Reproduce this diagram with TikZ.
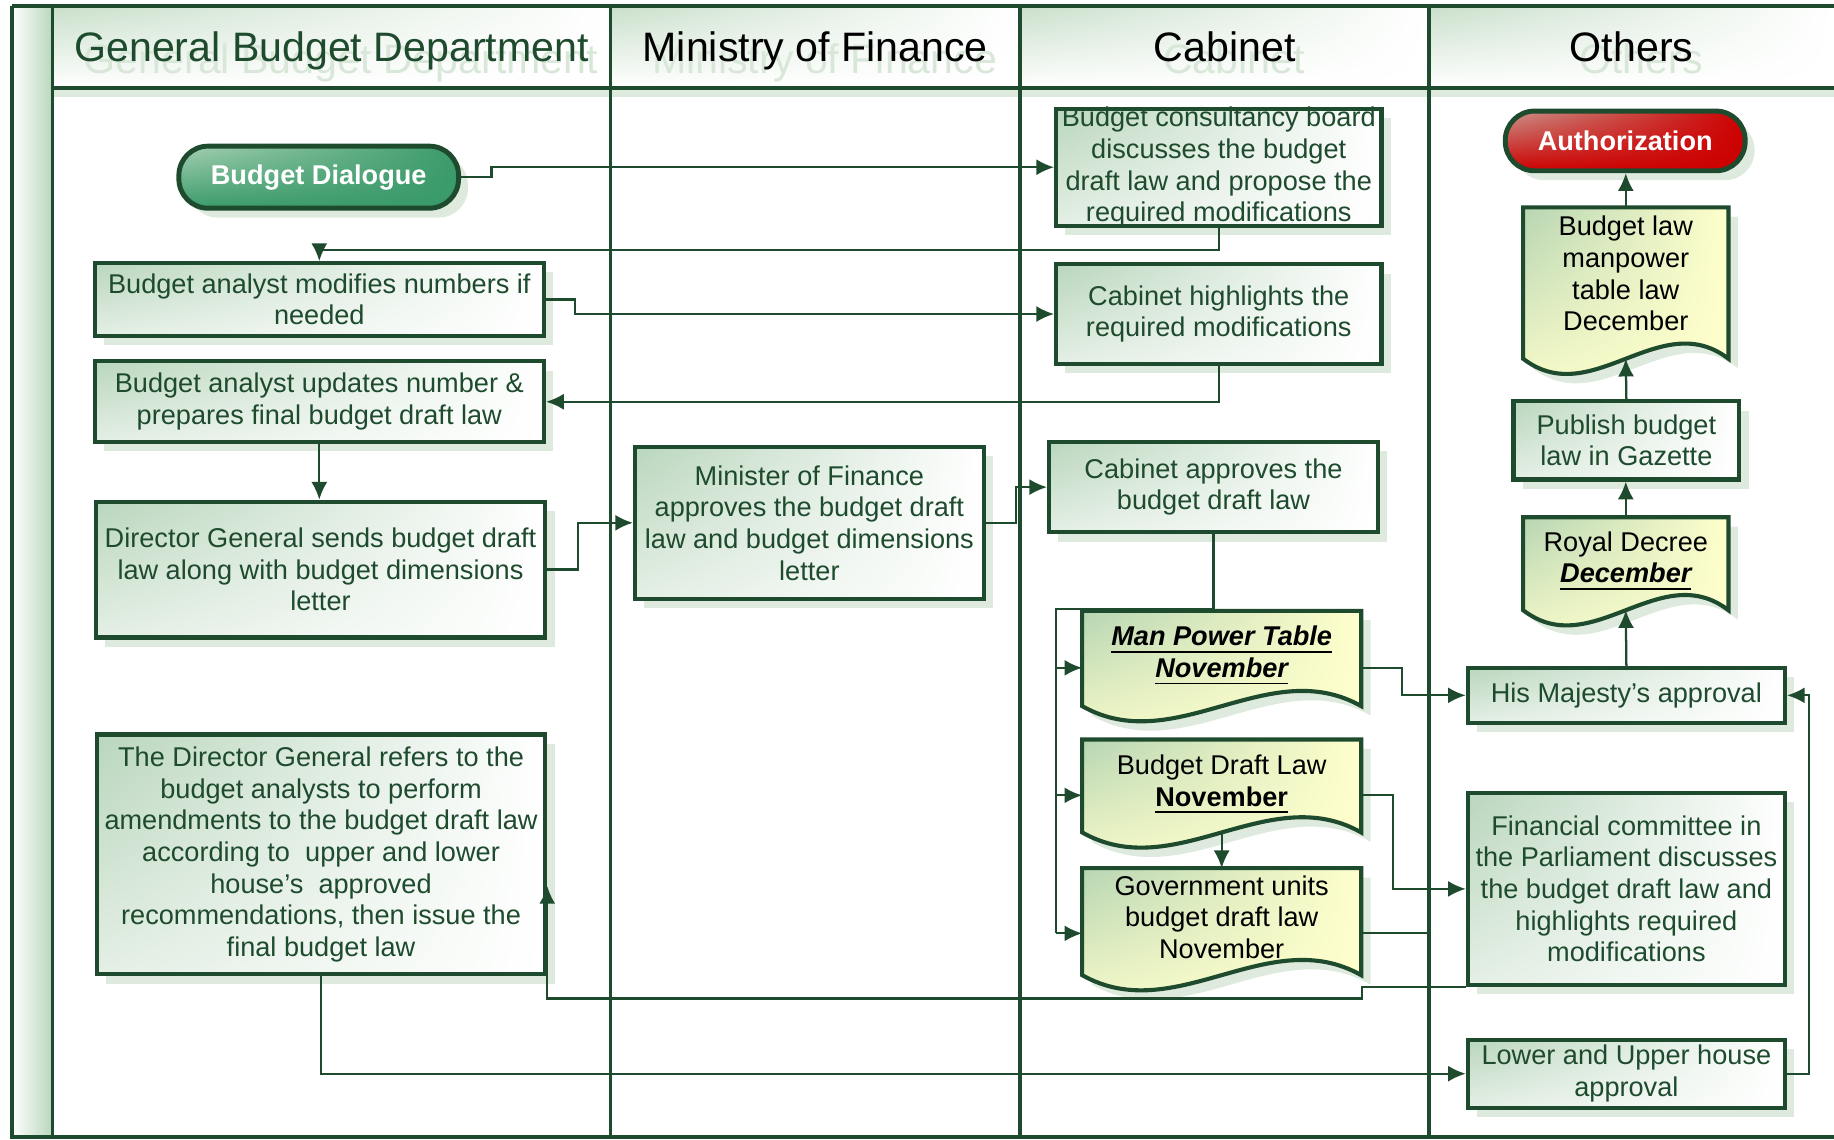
\documentclass[tikz,border=0pt]{standalone}
\usepackage{fontspec}
\setmainfont{Liberation Sans}
\usetikzlibrary{calc,arrows.meta,shadows,shadings,backgrounds}

\definecolor{linegreen}{HTML}{1E4B2D}
\definecolor{shadowgreen}{HTML}{DDEADD}
\definecolor{boxgreen}{HTML}{B9D6BD}
\definecolor{boxgreenlow}{HTML}{E4EFE5}
\definecolor{headgreen}{HTML}{C9DFCA}
\definecolor{ghostgreen}{HTML}{D8E7D8}
\definecolor{docgreen}{HTML}{B7D5B3}
\definecolor{docyellow}{HTML}{FFFFCC}
\definecolor{pillgreen}{HTML}{3A9A6A}
\definecolor{pilllight}{HTML}{A6D0B3}
\definecolor{authred}{HTML}{CC0000}
\definecolor{authlight}{HTML}{C9958C}

\newcommand{\bodysize}{\fontsize{6.6pt}{7.7pt}\selectfont}
\newcommand{\headsize}{\fontsize{10pt}{12pt}\selectfont}

% sheet with a wavy bottom edge round a named node, #2 = how far the corners sit below it
\newcommand{\docsheet}[2]{%
  \fill[shadowgreen,transform canvas={shift={(0.08cm,-0.08cm)}}] (#1.north west) -- (#1.north east) -- ($(#1.south east)+(0,#2)$)
    .. controls ($(#1.south east)!0.333!(#1.south west)+(0,#2-45)$) and ($(#1.south east)!0.667!(#1.south west)+(0,#2+45)$) .. ($(#1.south west)+(0,#2)$) -- cycle;
  \draw[docline] (#1.north west) -- (#1.north east) -- ($(#1.south east)+(0,#2)$)
    .. controls ($(#1.south east)!0.333!(#1.south west)+(0,#2-45)$) and ($(#1.south east)!0.667!(#1.south west)+(0,#2+45)$) .. ($(#1.south west)+(0,#2)$) -- cycle;
}

\begin{document}
\begin{tikzpicture}[x=0.01cm,y=-0.01cm,
    lane/.style={draw=linegreen,line width=0.9pt},
    procbox/.style={rectangle,draw=linegreen,line width=1pt,inner sep=0pt,align=center,
      text=linegreen,font=\bodysize,
      upper left=boxgreen,upper right=white,lower left=boxgreenlow,lower right=white,
      drop shadow={shadow xshift=0.08cm,shadow yshift=-0.08cm,fill=shadowgreen,opacity=1}},
    pill/.style={rectangle,rounded corners=0.25cm,draw=linegreen,line width=1.2pt,inner sep=0pt,
      text=white,font=\bodysize\bfseries,
      drop shadow={shadow xshift=0.08cm,shadow yshift=-0.08cm,fill=shadowgreen,opacity=1}},
    docbox/.style={rectangle,inner sep=0pt,align=center,text=black,font=\bodysize},
    docline/.style={draw=linegreen,line width=1pt,
      upper left=docgreen,upper right=docyellow,lower left=docyellow,lower right=docyellow},
    flow/.style={draw=linegreen,line width=0.55pt,-{Latex[length=4.3pt,width=3.9pt]}},
    link/.style={draw=linegreen,line width=0.55pt},
    headtext/.style={font=\headsize,anchor=base},
    ghost/.style={font=\headsize,anchor=base,text=ghostgreen}
  ]
    \useasboundingbox (0,0) rectangle (1568,974);

    % Pool and lanes
    \shade[left color=white,right color=boxgreen] (10,5) rectangle (45,972);
    \foreach \xa/\xb in {45/522,522/872,872/1222,1222/1568}
      \shade[upper left=headgreen,upper right=white,lower left=white,lower right=white] (\xa,5) rectangle (\xb,75);
    \fill[shadowgreen] (45,77) rectangle (1568,83);
    \draw[lane] (10,5) -- (1568,5);
    \draw[lane] (10,5) -- (10,972) -- (1568,972);
    \draw[lane] (45,75) -- (1568,75);
    \foreach \x in {45,522,872,1222}
      \draw[lane] (\x,5) -- (\x,972);
    \coordinate (cabinetedge) at (1222,5);

    % Lane titles
    \node[ghost] (gbdghost) at (291.5,63) {General Budget Department};
    \node[ghost] (mofghost) at (705,63) {Ministry of Finance};
    \node[ghost] (cabghost) at (1055,63) {Cabinet};
    \node[ghost] (othghost) at (1403,63) {Others};
    \node[headtext,text=linegreen] (gbdhead) at (283.5,53) {General Budget Department};
    \node[headtext] (mofhead) at (697,53) {Ministry of Finance};
    \node[headtext] (cabhead) at (1047,53) {Cabinet};
    \node[headtext] (othhead) at (1395,53) {Others};

    % General Budget Department
    \node[pill,upper left=pilllight,upper right=pillgreen,lower left=pillgreen,lower right=pillgreen,
      minimum width=2.39cm,minimum height=0.53cm] (bdial) at (272.5,151.5) {Budget Dialogue};
    \node[procbox,minimum width=3.84cm,minimum height=0.62cm] (modify) at (273,256)
      {Budget analyst modifies numbers if\\needed};
    \node[procbox,minimum width=3.84cm,minimum height=0.69cm] (update) at (273,343.5)
      {Budget analyst updates number \&\\prepares final budget draft law};
    \node[procbox,minimum width=3.84cm,minimum height=1.16cm] (dgsend) at (274,487)
      {Director General sends budget draft\\law along with budget dimensions\\letter};
    \node[procbox,minimum width=3.83cm,minimum height=2.05cm] (dgrefer) at (274.5,730.5)
      {The Director General refers to the\\budget analysts to perform\\amendments to the budget draft law\\according to\ \ upper and lower\\house’s\ \ approved\\recommendations, then issue the\\final budget law};

    % Ministry of Finance
    \node[procbox,minimum width=2.98cm,minimum height=1.3cm] (minister) at (692,447)
      {Minister of Finance\\approves the budget draft\\law and budget dimensions\\letter};

    % Cabinet
    \node[procbox,minimum width=2.78cm,minimum height=1cm,inner ysep=-1pt] (consult) at (1042,143)
      {Budget consultancy board\\discusses the budget\\draft law and propose the\\required modifications};
    \node[procbox,minimum width=2.78cm,minimum height=0.85cm] (highlight) at (1042,268.5)
      {Cabinet highlights the\\required modifications};
    \node[procbox,minimum width=2.81cm,minimum height=0.77cm] (approve) at (1037.5,416.5)
      {Cabinet approves the\\budget draft law};
    \node[docbox,minimum width=2.37cm,minimum height=0.76cm] (mptable) at (1044.5,561)
      {\textbf{\textit{\underline{Man Power Table}}}\\\textbf{\textit{\underline{November}}}};
    \node[docbox,minimum width=2.37cm,minimum height=0.76cm] (draftlaw) at (1044.5,671)
      {Budget Draft Law\\\textbf{\underline{November}}};
    \node[docbox,minimum width=2.37cm,minimum height=0.82cm] (govunits) at (1044.5,784)
      {Government units\\budget draft law\\November};

    % Others
    \node[pill,upper left=authlight,upper right=authred,lower left=authred,lower right=authred,
      minimum width=2.05cm,minimum height=0.51cm] (auth) at (1389.5,120.5) {Authorization};
    \node[docbox,minimum width=1.74cm,minimum height=1.12cm] (lawdoc) at (1390,234)
      {Budget law\\manpower\\table law\\December};
    \node[procbox,minimum width=1.93cm,minimum height=0.67cm] (publish) at (1390.5,376.5)
      {Publish budget\\law in Gazette};
    \node[docbox,minimum width=1.74cm,minimum height=0.74cm] (decree) at (1390,480)
      {Royal Decree\\\textbf{\textit{\underline{December}}}};
    \node[procbox,minimum width=2.71cm,minimum height=0.47cm] (majesty) at (1390.5,594.5)
      {His Majesty’s approval};
    \node[procbox,minimum width=2.71cm,minimum height=1.64cm] (fincom) at (1390.5,760)
      {Financial committee in\\the Parliament discusses\\the budget draft law and\\highlights required\\modifications};
    \node[procbox,minimum width=2.71cm,minimum height=0.58cm] (houses) at (1390.5,918)
      {Lower and Upper house\\approval};

    % Sheets behind the document texts
    \begin{scope}[on background layer]
      \docsheet{mptable}{4}
      \docsheet{draftlaw}{2}
      \docsheet{govunits}{8}
      \docsheet{lawdoc}{16}
      \docsheet{decree}{4}
    \end{scope}

    % Flow
    \draw[flow] (bdial.east) -- ++(26,0) |- (consult.west);
    \draw[flow] (consult.south) -- ++(0,19) -| (modify.north);
    \draw[flow] (modify.east) -- ++(25,0) |- (highlight.west);
    \draw[flow] (highlight.south) |- (update.east);
    \draw[flow] (update.south) -- (update.south |- dgsend.north);
    \draw[flow] (dgsend.east) -- ++(26,0) |- (minister.west);
    \draw[flow] (minister.east) -- ++(26,0) |- (approve.west);

    % Cabinet fork into the documents
    \coordinate (fork) at (903,521);
    \coordinate (mpin) at ([yshift=-0.1cm]mptable.west);
    \coordinate (dlin) at ([yshift=-0.09cm]draftlaw.west);
    \coordinate (guin) at ([yshift=-0.14cm]govunits.west);
    \draw[link] (approve.south) |- (fork) -- (fork |- guin);
    \draw[flow] (fork |- mpin) -- (mpin);
    \draw[flow] (fork |- dlin) -- (dlin);
    \draw[flow] (fork |- guin) -- (guin);
    \draw[flow] ($(draftlaw.south)+(0,2)$) -- (draftlaw.south |- govunits.north);

    % Documents to others
    \draw[flow] ([yshift=-0.1cm]mptable.east) -- ++(35,0) |- (majesty.west);
    \draw[flow] ([yshift=-0.09cm]draftlaw.east) -- ++(27,0) |- (fincom.west);
    \coordinate (guout) at ([yshift=-0.14cm]govunits.east);
    \draw[link] (guout) -- (guout -| cabinetedge);
    \draw[flow] (fincom.south west) -- ++(-89,0) -- ++(0,10) -| ([yshift=-0.27cm]dgrefer.east);
    \draw[flow] (dgrefer.south) |- (houses.west);
    \draw[flow] (houses.east) -- ++(19,0) |- (majesty.east);

    % Authorization chain
    \draw[flow] (majesty.north) -- ($(decree.south)+(0,4)$);
    \draw[flow] (decree.north) -- (decree.north |- publish.south);
    \draw[flow] (publish.north) -- ($(lawdoc.south)+(0,16)$);
    \draw[flow] (lawdoc.north) -- (lawdoc.north |- auth.south);
\end{tikzpicture}
\end{document}
